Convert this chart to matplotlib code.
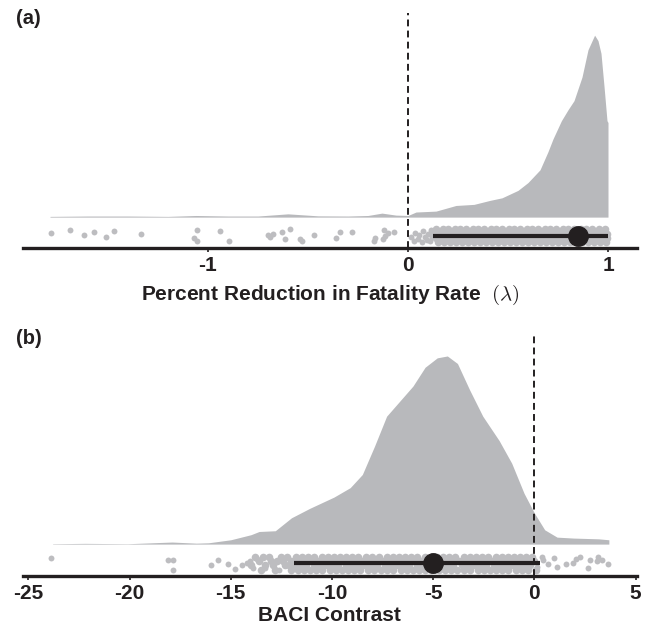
import matplotlib.pyplot as plt

plt.rcParams['font.family'] = ['Liberation Sans', 'DejaVu Sans']
plt.rcParams['font.weight'] = 'bold'
plt.rcParams['axes.unicode_minus'] = False
plt.rcParams['mathtext.fontset'] = 'cm'

# ---- panel (a): percent reduction in fatality rate (lambda)
# density outline, height relative to peak
dens_a_x = [-1.79, -1.6, -1.4, -1.2, -1.06, -0.9, -0.75, -0.6, -0.45, -0.3, -0.2,
            -0.13, -0.06, 0.0, 0.04, 0.14, 0.24, 0.33, 0.41, 0.47, 0.55, 0.60,
            0.66, 0.70, 0.725, 0.767, 0.80, 0.83, 0.87, 0.90, 0.933, 0.95, 0.965,
            0.98, 0.995, 1.0, 1.0]
dens_a_h = [0.004, 0.006, 0.006, 0.004, 0.009, 0.006, 0.006, 0.018, 0.007, 0.006, 0.009,
            0.022, 0.011, 0.009, 0.028, 0.033, 0.064, 0.070, 0.092, 0.106, 0.147, 0.19,
            0.26, 0.36, 0.43, 0.53, 0.59, 0.64, 0.77, 0.92, 1.0, 0.97, 0.90,
            0.72, 0.53, 0.52, 0.0]

# scattered draws (x) and their vertical jitter (0 = top of band, 1 = bottom)
a_pts_x = [-1.787, -1.69, -1.62, -1.57, -1.51, -1.47, -1.335, -1.069, -1.057, -1.054,
           -0.939, -0.894, -0.699, -0.69, -0.675, -0.632, -0.615, -0.59, -0.54, -0.53,
           -0.47, -0.36, -0.34, -0.28, -0.17, -0.165, -0.125, -0.12, -0.115, -0.10,
           -0.07, 0.015, 0.03, 0.035, 0.05, 0.055, 0.07, 0.075, 0.085, 0.095,
           0.10, 0.11, 0.115, 0.12]
a_pts_j = [0.28, 0.06, 0.44, 0.22, 0.64, 0.11, 0.33, 0.67, 0.06, 0.94,
           0.14, 0.97, 0.42, 0.64, 0.33, 0.17, 0.75, 0.0, 0.75, 0.96,
           0.42, 0.72, 0.17, 0.17, 0.92, 0.71, 0.75, 0.08, 0.5, 0.29,
           0.17, 0.6, 0.92, 0.25, 0.75, 0.42, 1.0, 0.1, 0.58, 0.85,
           0.33, 0.95, 0.05, 0.6]

# dense part of the draws, row by row
a_rows = [
    [0.14, 0.175, 0.20, 0.235, 0.26, 0.29, 0.325, 0.35, 0.38, 0.415, 0.44, 0.47, 0.505,
     0.53, 0.56, 0.595, 0.62, 0.65, 0.685, 0.71, 0.74, 0.775, 0.80, 0.83, 0.865, 0.89,
     0.92, 0.955, 0.985],
    [0.125, 0.155, 0.19, 0.215, 0.245, 0.275, 0.305, 0.34, 0.365, 0.395, 0.43, 0.455,
     0.485, 0.515, 0.545, 0.575, 0.605, 0.635, 0.665, 0.695, 0.725, 0.755, 0.79, 0.815,
     0.845, 0.875, 0.905, 0.94, 0.97, 0.995],
    [0.14, 0.165, 0.195, 0.225, 0.255, 0.285, 0.315, 0.345, 0.375, 0.405, 0.435, 0.465,
     0.495, 0.525, 0.555, 0.585, 0.615, 0.645, 0.675, 0.705, 0.735, 0.765, 0.795, 0.825,
     0.855, 0.885, 0.915, 0.945, 0.975, 0.995],
    [0.15, 0.18, 0.21, 0.24, 0.27, 0.30, 0.33, 0.36, 0.39, 0.42, 0.45, 0.48, 0.51, 0.54,
     0.57, 0.60, 0.63, 0.66, 0.69, 0.72, 0.75, 0.78, 0.81, 0.84, 0.87, 0.90, 0.93, 0.96,
     0.99],
]
a_est = 0.85
a_ci = [0.127, 1.0]
a_ticks = [-1, 0, 1]
a_ticklabels = ['-1', '0', '1']

# ---- panel (b): BACI contrast
dens_b_x = [-23.8, -22.2, -20.1, -17.9, -16.7, -16.1, -15.0, -14.0, -13.6, -12.8, -12.0,
            -11.1, -9.9, -9.1, -8.5, -7.9, -7.3, -6.65, -6.0, -5.4, -4.8, -4.3,
            -3.8, -3.2, -2.55, -1.74, -1.12, -0.51, 0.0, 0.51, 1.12, 1.94, 3.17,
            3.68, 3.68]
dens_b_h = [0.002, 0.004, 0.002, 0.011, 0.005, 0.007, 0.023, 0.05, 0.067, 0.071, 0.14,
            0.19, 0.25, 0.30, 0.37, 0.52, 0.68, 0.76, 0.84, 0.94, 0.99, 1.0,
            0.96, 0.82, 0.68, 0.55, 0.43, 0.27, 0.165, 0.076, 0.037, 0.032, 0.028,
            0.023, 0.0]

b_pts_x = [-23.9, -18.08, -17.84, -17.87, -15.97, -15.61, -15.15, -14.79, -14.46, -14.21,
           -14.05, -13.88, -13.7, -13.3, -12.9, -12.6, 0.15, 0.36, 0.44, 0.69,
           0.97, 1.11, 1.55, 1.93, 2.05, 2.26, 2.67, 2.75, 3.08, 3.16,
           3.33, 3.66]
b_pts_j = [0.09, 0.26, 0.26, 1.0, 0.62, 0.21, 0.52, 0.93, 0.62, 0.5,
           0.34, 0.86, 0.15, 0.9, 0.45, 1.0, 0.81, 0.0, 0.21, 0.57,
           0.09, 0.81, 0.57, 0.5, 0.14, 0.02, 0.86, 0.21, 0.34, 0.02,
           0.21, 0.57]

b_rows = [
    [-13.8, -13.4, -13.1, -12.5, -12.2, -11.8, -11.5, -11.2, -10.9, -10.5, -10.2, -9.9,
     -9.6, -9.3, -9.0, -8.7, -8.3, -8.0, -7.7, -7.3, -7.0, -6.7, -6.4, -6.1, -5.8, -5.4,
     -5.1, -4.8, -4.5, -4.2, -3.9, -3.5, -3.2, -2.9, -2.6, -2.3, -1.9, -1.6, -1.3, -1.0,
     -0.7, -0.4, -0.1],
    [-13.6, -13.0, -12.7, -12.4, -12.0, -11.7, -11.4, -11.0, -10.7, -10.4, -10.0, -9.7,
     -9.4, -9.1, -8.8, -8.5, -8.2, -7.9, -7.5, -7.2, -6.9, -6.6, -6.3, -5.9, -5.6, -5.3,
     -5.0, -4.7, -4.3, -4.0, -3.7, -3.4, -3.1, -2.8, -2.5, -2.1, -1.8, -1.5, -1.2, -0.9,
     -0.6, -0.3, 0.0],
    [-14.0, -13.3, -12.9, -12.3, -12.1, -11.9, -11.6, -11.3, -10.9, -10.6, -10.3, -10.0,
     -9.7, -9.3, -9.0, -8.7, -8.4, -8.1, -7.8, -7.4, -7.1, -6.8, -6.5, -6.2, -5.8, -5.5,
     -5.2, -4.9, -4.6, -4.3, -4.0, -3.6, -3.3, -3.0, -2.7, -2.4, -2.0, -1.7, -1.4, -1.1,
     -0.8, -0.5, -0.2],
    [-13.5, -12.8, -12.0, -11.7, -11.4, -11.1, -10.8, -10.5, -10.1, -9.8, -9.5, -9.2,
     -8.9, -8.6, -8.2, -7.9, -7.6, -7.3, -7.0, -6.6, -6.3, -6.0, -5.7, -5.4, -5.1, -4.7,
     -4.4, -4.1, -3.8, -3.5, -3.2, -2.8, -2.5, -2.2, -1.9, -1.6, -1.3, -0.9, -0.6, -0.3,
     0.1],
]
b_est = -5.0
b_ci = [-11.86, 0.28]
b_ticks = [-25, -20, -15, -10, -5, 0, 5]
b_ticklabels = ['-25', '-20', '-15', '-10', '-5', '0', '5']

row_j = [0.0, 0.33, 0.67, 1.0]

# styling
fill_col = '#b8b9bc'
dot_col = '#bdbdc0'
ink = '#231f20'
band_top, band_bot = -0.068, -0.136
ylim = (-0.167, 1.122)


def jit(j):
    return band_top - j * (band_top - band_bot)


def draw_panel(ax, dx, dh, px, pj, rows, est, ci, xlim, ticks, ticklabels):
    ax.fill_between(dx, 0, dh, color=fill_col, linewidth=0, zorder=1)
    ax.scatter(px, [jit(j) for j in pj], s=18, color=dot_col, linewidths=0, zorder=2)
    for row, j in zip(rows, row_j):
        ax.scatter(row, [jit(j)] * len(row), s=30, color=dot_col, linewidths=0, zorder=2)
    ax.axvline(0, color=ink, lw=1.4, dashes=(3.5, 2.2), zorder=3)
    ymid = jit(0.5)
    ax.plot(ci, [ymid, ymid], color=ink, lw=3, solid_capstyle='butt', zorder=4)
    ax.plot([est], [ymid], 'o', color=ink, markersize=14, zorder=5)
    ax.set_xlim(*xlim)
    ax.set_ylim(*ylim)
    for s in ['top', 'right', 'left']:
        ax.spines[s].set_visible(False)
    ax.spines['bottom'].set_linewidth(2.4)
    ax.spines['bottom'].set_color(ink)
    ax.set_yticks([])
    ax.set_xticks(ticks)
    ax.set_xticklabels(ticklabels)
    ax.tick_params(axis='x', length=3, width=1.2, color=ink, pad=3, labelsize=15,
                   labelcolor=ink)


fig = plt.figure(figsize=(6.52, 6.33), dpi=100)
ax_a = fig.add_axes([0.0348, 0.609, 0.9422, 0.3705])
ax_b = fig.add_axes([0.0348, 0.0908, 0.9422, 0.3831])

draw_panel(ax_a, dens_a_x, dens_a_h, a_pts_x, a_pts_j, a_rows, a_est, a_ci,
           (-1.9265, 1.145), a_ticks, a_ticklabels)
draw_panel(ax_b, dens_b_x, dens_b_h, b_pts_x, b_pts_j, b_rows, b_est, b_ci,
           (-25.28, 5.07), b_ticks, b_ticklabels)

ax_a.set_xlabel(r'Percent Reduction in Fatality Rate  $(\lambda)$', fontsize=15,
                fontweight='bold', color=ink, labelpad=6)
ax_b.set_xlabel('BACI Contrast', fontsize=15, fontweight='bold', color=ink, labelpad=2)

fig.text(16 / 652, 1 - 9 / 633, '(a)', fontsize=14.5, fontweight='bold', color=ink,
         va='top', ha='left')
fig.text(16 / 652, 1 - 329 / 633, '(b)', fontsize=14.5, fontweight='bold', color=ink,
         va='top', ha='left')

fig.savefig('out.png', dpi=100)
